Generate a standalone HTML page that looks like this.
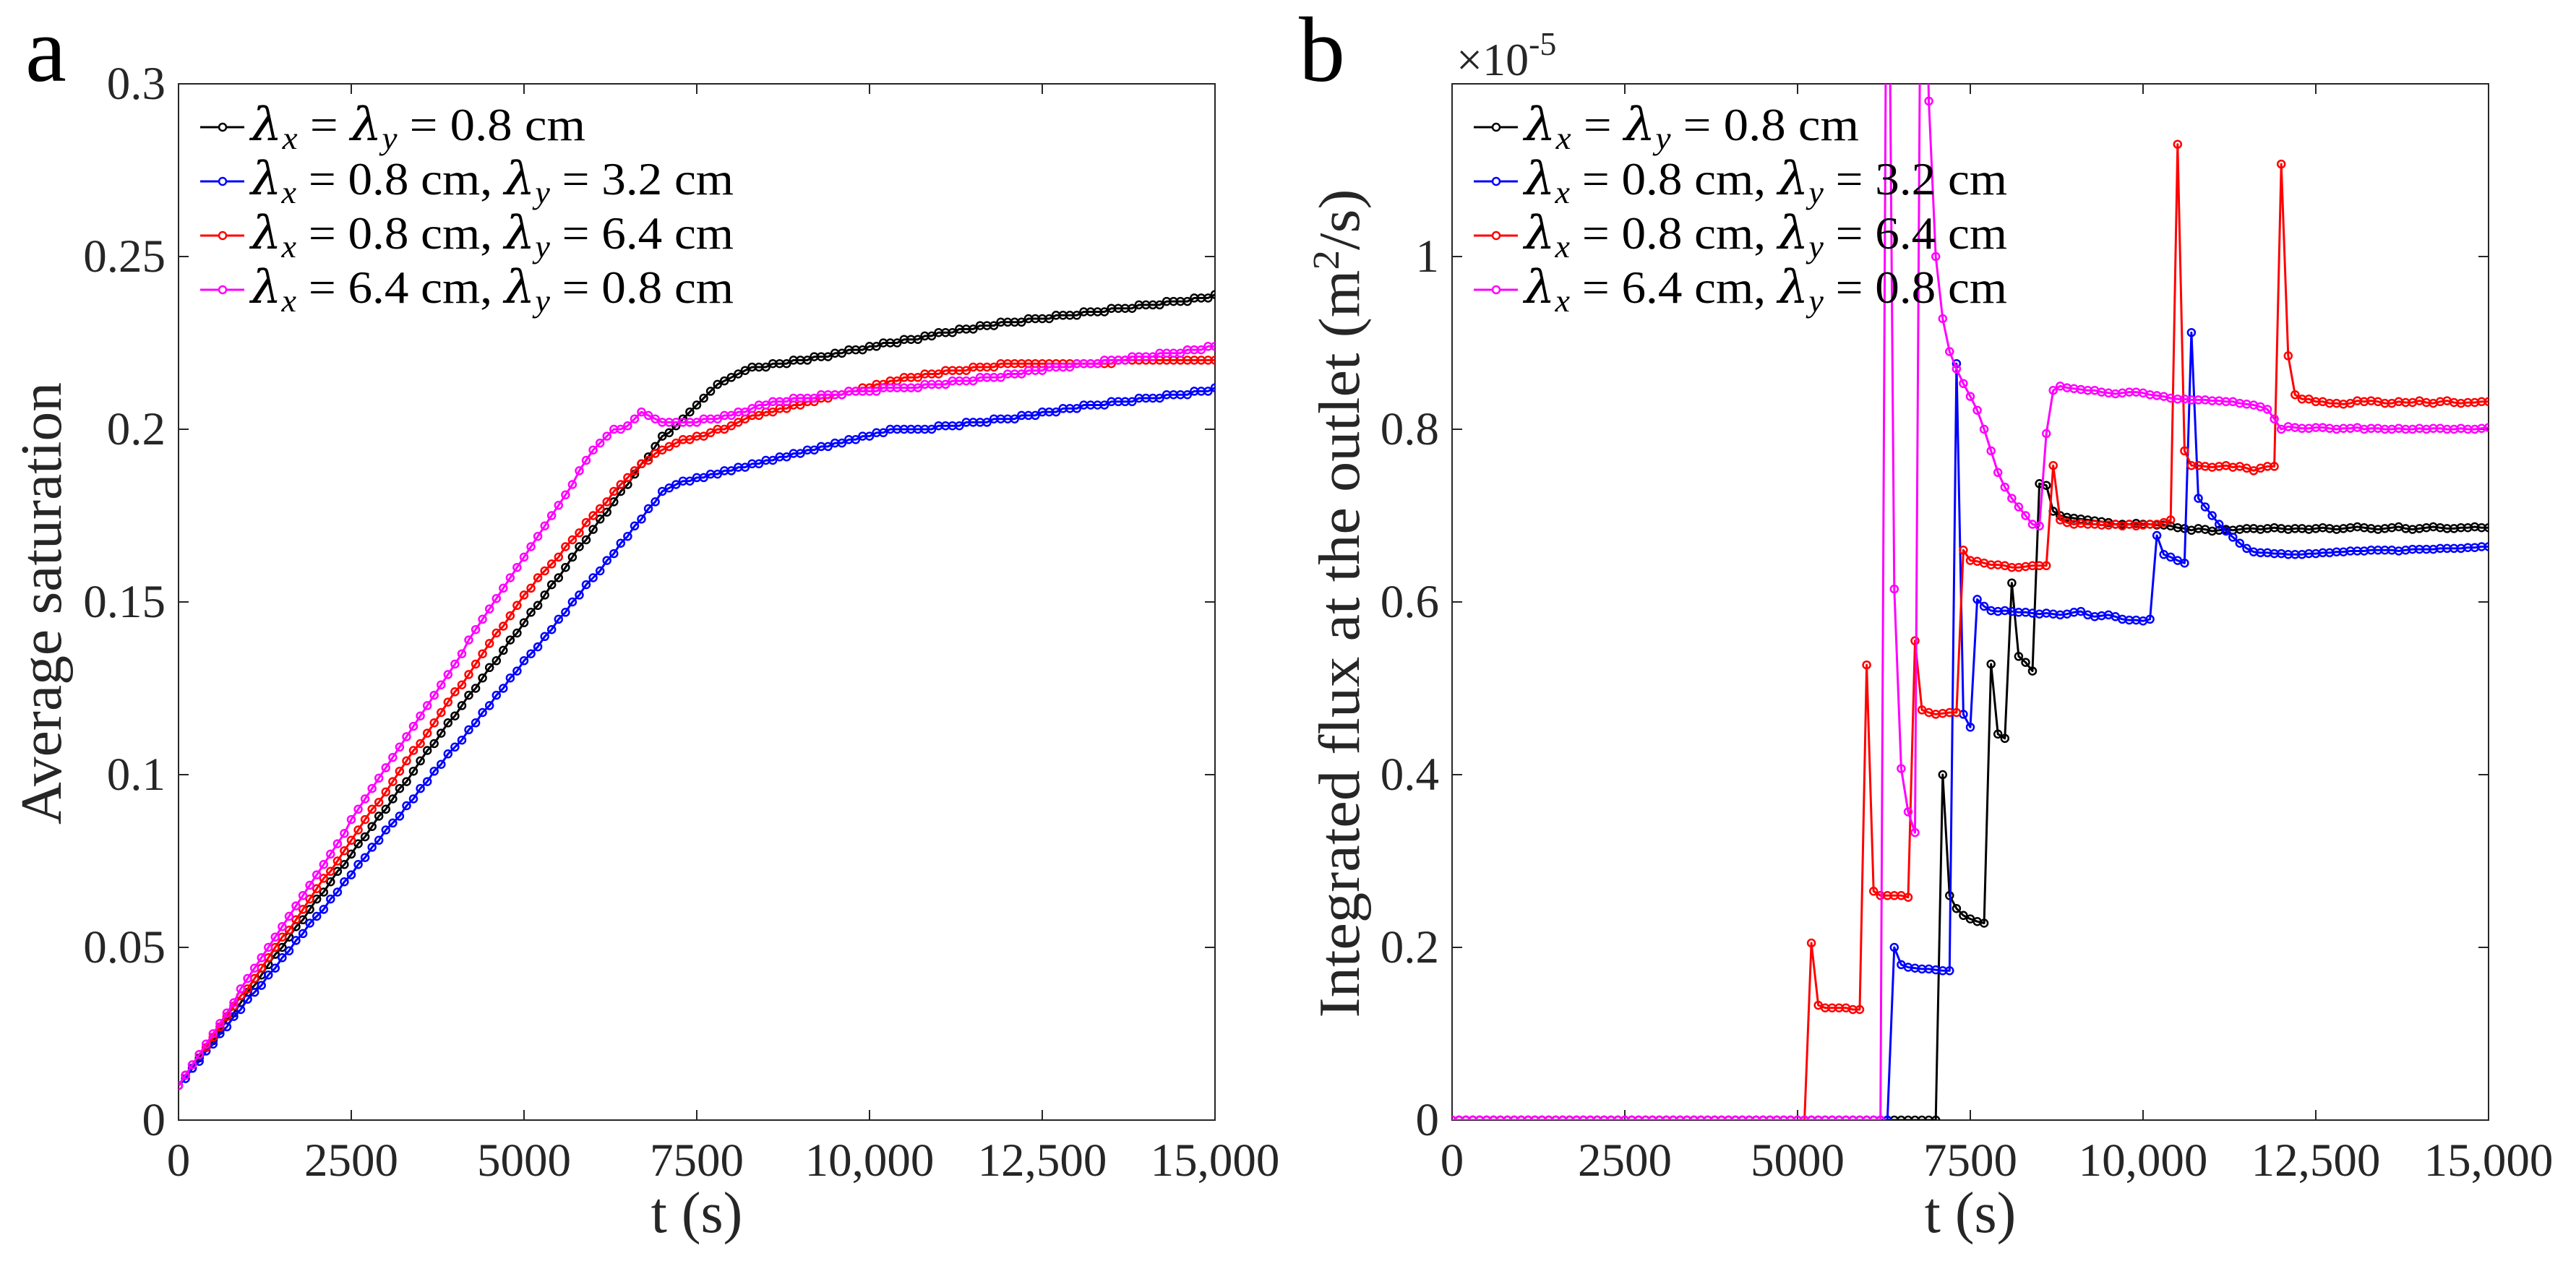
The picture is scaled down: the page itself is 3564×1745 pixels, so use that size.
<!DOCTYPE html>
<html><head><meta charset="utf-8"><style>
html,body{margin:0;padding:0;background:#fff;}
svg{display:block;font-family:"Liberation Serif",serif;}
.gr{font-family:"DejaVu Serif","Liberation Serif",serif;font-style:italic;}
</style></head><body>
<svg id="fig" width="3564" height="1745" viewBox="0 0 3564 1745" xmlns="http://www.w3.org/2000/svg">
<defs>
<clipPath id="clipA"><rect x="247" y="116" width="1434" height="1434"/></clipPath>
<clipPath id="clipB"><rect x="2009" y="116" width="1434" height="1434"/></clipPath>
</defs>
<g id="gA"></g>
<g id="gB"></g>
</svg>
<script>
// shared x categories: time steps every 100 s (0..15000)
const tStep = 100;
const xTicks = [0, 2500, 5000, 7500, 10000, 12500, 15000];
const xTickLabels = ["0", "2500", "5000", "7500", "10,000", "12,500", "15,000"];
const yTicksA = [0, 0.05, 0.1, 0.15, 0.2, 0.25, 0.3];
const yTickLabelsA = ["0", "0.05", "0.1", "0.15", "0.2", "0.25", "0.3"];
const yTicksB = [0, 0.2, 0.4, 0.6, 0.8, 1];
const yTickLabelsB = ["0", "0.2", "0.4", "0.6", "0.8", "1"];
const seriesNames = ["lx-ly-0.8", "lx-0.8-ly-3.2", "lx-0.8-ly-6.4", "lx-6.4-ly-0.8"];

const satBlack = [0.010,0.013,0.015,0.018,0.021,0.023,0.026,0.029,0.031,0.034,0.037,
0.039,0.042,0.045,0.048,0.050,0.053,0.056,0.058,0.061,0.064,
0.066,0.069,0.072,0.074,0.077,0.080,0.082,0.085,0.088,0.090,
0.093,0.096,0.098,0.101,0.104,0.107,0.109,0.112,0.115,0.117,
0.120,0.123,0.125,0.128,0.131,0.133,0.136,0.139,0.141,0.144,
0.147,0.149,0.152,0.155,0.157,0.160,0.163,0.166,0.168,0.171,
0.174,0.176,0.179,0.182,0.184,0.187,0.190,0.192,0.195,0.198,
0.199,0.201,0.203,0.205,0.207,0.209,0.211,0.213,0.214,0.215,0.216,0.217,0.218,
0.218,0.218,0.219,0.219,0.219,0.220,0.220,0.220,0.221,0.221,0.221,0.222,0.222,0.223,0.223,0.223,0.224,
0.224,0.225,0.225,0.225,0.226,0.226,0.226,0.227,0.227,0.228,0.228,0.228,0.229,0.229,0.229,0.230,0.230,0.230,0.231,0.231,
0.231,0.231,0.232,0.232,0.232,0.232,0.233,0.233,0.233,0.233,0.234,0.234,0.234,0.234,0.235,0.235,0.235,0.235,0.236,0.236,0.236,0.236,0.237,0.237,0.237,0.237,0.238,0.238,0.238,0.239];
const satBlue = [0.010,0.012,0.015,0.017,0.020,0.022,0.025,0.027,0.030,0.032,0.035,
0.037,0.039,0.042,0.044,0.047,0.049,0.052,0.054,0.057,0.059,
0.061,0.064,0.066,0.069,0.071,0.074,0.076,0.079,0.081,0.084,
0.086,0.088,0.091,0.093,0.096,0.098,0.101,0.103,0.106,0.108,
0.110,0.113,0.115,0.118,0.120,0.123,0.125,0.128,0.130,0.133,
0.135,0.137,0.140,0.142,0.145,0.147,0.150,0.152,0.155,0.157,
0.159,0.162,0.164,0.167,0.169,0.172,0.174,0.177,0.179,0.182,
0.183,0.184,0.185,0.185,0.186,
0.186,0.187,0.187,0.188,0.188,0.189,0.189,0.190,0.190,0.191,
0.191,0.192,0.192,0.193,0.193,0.194,0.194,0.195,0.195,0.196,0.196,0.197,0.197,0.198,0.198,0.199,0.199,0.200,0.200,0.200,
0.200,0.200,0.200,0.200,0.201,0.201,0.201,0.201,0.202,0.202,0.202,0.202,0.203,0.203,0.203,
0.203,0.204,0.204,0.204,0.205,0.205,0.205,0.206,0.206,0.206,0.207,0.207,0.207,0.207,0.208,0.208,0.208,0.208,0.209,0.209,0.209,0.209,0.210,0.210,0.210,0.210,0.211,0.211,0.211,0.212];
const satRed = [0.010,0.013,0.016,0.019,0.021,0.024,0.027,0.030,0.033,0.036,0.038,
0.041,0.044,0.047,0.050,0.053,0.055,0.058,0.061,0.064,0.067,
0.070,0.072,0.075,0.078,0.081,0.084,0.087,0.090,0.092,0.095,
0.098,0.101,0.104,0.107,0.109,0.112,0.115,0.118,0.121,0.124,
0.126,0.129,0.132,0.135,0.138,0.141,0.143,0.146,0.149,0.152,
0.154,0.157,0.159,0.161,0.163,0.166,0.168,0.170,0.173,0.175,0.177,0.179,0.182,0.184,0.186,
0.188,0.190,0.191,0.193,0.194,0.195,0.196,0.197,0.197,0.198,
0.198,0.199,0.200,0.200,0.201,0.202,0.203,0.204,0.204,0.205,
0.205,0.206,0.206,0.207,0.207,0.208,0.208,0.209,0.209,0.210,0.210,0.211,0.211,0.212,0.212,0.213,0.213,0.214,0.214,0.215,
0.215,0.215,0.216,0.216,0.216,0.217,0.217,0.217,0.217,0.218,0.218,0.218,0.218,0.219,0.219,
0.219,0.219,0.219,0.219,0.219,0.219,0.219,0.219,0.219,0.219,0.219,0.219,0.219,0.219,0.219,
0.220,0.220,0.220,0.220,0.220,0.220,0.220,0.220,0.220,0.220,0.220,0.220,0.220,0.220,0.220];
const satMagenta = [0.010,0.013,0.016,0.019,0.022,0.025,0.028,0.031,0.034,0.038,0.041,
0.044,0.047,0.050,0.053,0.056,0.059,0.062,0.065,0.068,0.071,
0.074,0.077,0.080,0.083,0.087,0.090,0.093,0.096,0.099,0.102,
0.105,0.108,0.111,0.114,0.117,0.120,0.123,0.126,0.129,0.132,
0.135,0.139,0.142,0.145,0.148,0.151,0.154,0.157,0.160,0.163,
0.166,0.169,0.172,0.175,0.178,0.181,0.184,0.188,0.191,0.194,
0.196,0.198,
0.200,0.200,0.201,0.203,0.205,
0.204,0.203,0.202,0.202,0.202,
0.202,0.202,0.202,0.203,0.203,0.203,0.204,0.204,
0.205,0.205,0.206,0.207,0.207,0.208,0.208,0.208,0.209,0.209,
0.209,0.209,0.210,0.210,0.210,0.210,0.211,0.211,0.211,0.211,0.211,0.212,0.212,0.212,0.212,
0.212,0.212,0.213,0.213,0.213,0.213,0.214,0.214,0.214,0.214,0.215,0.215,0.215,0.215,0.216,
0.216,0.216,0.217,0.217,0.217,0.218,0.218,0.218,0.218,0.219,0.219,0.219,0.219,0.220,0.220,0.220,0.220,0.221,0.221,0.221,0.221,0.222,0.222,0.222,0.222,0.223,0.223,0.223,0.224,0.224];

// panel b, units of 1e-5 m^2/s
const fluxBlack = [0,0,0,0,0,0,0,0,0,0, 0,0,0,0,0,0,0,0,0,0, 0,0,0,0,0,0,0,0,0,0, 0,0,0,0,0,0,0,0,0,0,
0,0,0,0,0,0,0,0,0,0, 0,0,0,0,0,0,0,0,0,0, 0,0,0,0,0,0,0,0,0,0,
0,0.400,0.260,0.245,0.237,0.233,0.230,0.228,0.528,0.447,
0.442,0.622,0.537,0.530,0.520,0.737,0.735,0.705,0.700,0.698,
0.697,0.696,0.695,0.694,0.693,0.692,0.690,0.690,0.690,0.691,
0.690,0.690,0.689,0.689,0.688,0.686,0.685,0.683,0.685,0.684,
0.682,0.683,0.684,0.683,0.684,0.685,0.685,0.684,0.685,0.686,
0.685,0.684,0.685,0.685,0.684,0.685,0.686,0.685,0.684,0.685,
0.686,0.687,0.686,0.685,0.684,0.685,0.686,0.687,0.685,0.684,
0.685,0.686,0.687,0.686,0.685,0.685,0.686,0.686,0.687,0.686,
0.686];
const fluxBlue = [0,0,0,0,0,0,0,0,0,0, 0,0,0,0,0,0,0,0,0,0, 0,0,0,0,0,0,0,0,0,0, 0,0,0,0,0,0,0,0,0,0,
0,0,0,0,0,0,0,0,0,0, 0,0,0,0,0,0,0,0,0,0,
0,0,0,0,0.200,0.180,0.177,0.176,0.175,0.175,
0.174,0.173,0.173,0.876,0.470,0.455,0.603,0.595,0.590,0.589,
0.590,0.589,0.588,0.588,0.587,0.586,0.587,0.586,0.585,0.586,
0.588,0.589,0.585,0.583,0.584,0.585,0.583,0.580,0.579,0.579,
0.578,0.580,0.677,0.655,0.652,0.648,0.645,0.912,0.720,0.710,
0.700,0.690,0.682,0.675,0.668,0.662,0.658,0.657,0.657,0.656,
0.656,0.655,0.655,0.655,0.656,0.656,0.657,0.657,0.658,0.658,
0.659,0.659,0.659,0.660,0.660,0.660,0.660,0.659,0.660,0.661,
0.661,0.661,0.661,0.662,0.662,0.662,0.662,0.663,0.663,0.664,
0.664];
const fluxRed = [0,0,0,0,0,0,0,0,0,0, 0,0,0,0,0,0,0,0,0,0, 0,0,0,0,0,0,0,0,0,0, 0,0,0,0,0,0,0,0,0,0,
0,0,0,0,0,0,0,0,0,0,
0,0,0.205,0.133,0.130,0.130,0.130,0.130,0.128,0.128,
0.527,0.265,0.260,0.260,0.260,0.260,0.258,0.555,0.475,0.472,
0.470,0.471,0.472,0.472,0.660,0.648,0.647,0.645,0.643,0.643,
0.642,0.640,0.640,0.641,0.642,0.642,0.642,0.758,0.695,0.692,
0.690,0.691,0.690,0.690,0.689,0.689,0.690,0.688,0.690,0.688,
0.689,0.690,0.690,0.692,0.695,1.130,0.775,0.758,0.758,0.757,
0.756,0.757,0.758,0.756,0.757,0.755,0.752,0.755,0.757,0.757,
1.107,0.885,0.840,0.835,0.835,0.832,0.832,0.830,0.830,0.829,
0.830,0.833,0.832,0.833,0.832,0.830,0.830,0.832,0.831,0.831,
0.833,0.831,0.830,0.832,0.833,0.831,0.830,0.831,0.831,0.832,
0.832];
const fluxMagenta = [0,0,0,0,0,0,0,0,0,0, 0,0,0,0,0,0,0,0,0,0, 0,0,0,0,0,0,0,0,0,0, 0,0,0,0,0,0,0,0,0,0,
0,0,0,0,0,0,0,0,0,0, 0,0,0,0,0,0,0,0,0,0,
0,0,0,1.600,0.615,0.407,0.357,0.333,1.600,1.180,
1.000,0.928,0.890,0.870,0.853,0.838,0.822,0.800,0.775,0.750,
0.733,0.720,0.710,0.700,0.690,0.688,0.795,0.845,0.850,0.848,
0.847,0.846,0.845,0.845,0.843,0.842,0.841,0.842,0.843,0.843,
0.842,0.840,0.839,0.838,0.836,0.835,0.835,0.834,0.834,0.834,
0.833,0.833,0.832,0.832,0.830,0.829,0.828,0.826,0.823,0.812,
0.800,0.803,0.802,0.801,0.801,0.802,0.802,0.801,0.800,0.801,
0.801,0.802,0.800,0.801,0.801,0.800,0.800,0.801,0.800,0.800,
0.801,0.800,0.801,0.801,0.800,0.800,0.801,0.800,0.800,0.801,
0.802];

const NS = "http://www.w3.org/2000/svg";
const colors = ["#000000", "#0000ff", "#ff0000", "#ff00ff"];
function mk(tag, parent) { const e = document.createElementNS(NS, tag); parent.appendChild(e); return e; }

function drawPanel(g, X0, clipId, yMax, yTicks, yLabels, series, letter, ylabelText, ylabelX, ylabelLen, sup) {
  const Y0 = 116, W = 1434, H = 1434, xMax = 15000;
  const sx = v => X0 + v / xMax * W;
  const sy = v => Y0 + H - v / yMax * H;
  const box = mk("rect", g);
  box.setAttribute("x", X0); box.setAttribute("y", Y0); box.setAttribute("width", W); box.setAttribute("height", H);
  box.setAttribute("fill", "none"); box.setAttribute("stroke", "#262626"); box.setAttribute("stroke-width", "2");
  
  
  xTicks.forEach((v, i) => {
    const x = sx(v);
    const t1 = mk("line", g);
    t1.setAttribute("x1", x); t1.setAttribute("x2", x); t1.setAttribute("y1", Y0 + H); t1.setAttribute("y2", Y0 + H - 14);
    t1.setAttribute("stroke", "#262626"); t1.setAttribute("stroke-width", "2");
    
    
    const t2 = mk("line", g);
    t2.setAttribute("x1", x); t2.setAttribute("x2", x); t2.setAttribute("y1", Y0); t2.setAttribute("y2", Y0 + 14);
    t2.setAttribute("stroke", "#262626"); t2.setAttribute("stroke-width", "2");
    
    
    const tx = mk("text", g);
    tx.setAttribute("x", x); tx.setAttribute("y", 1627); tx.setAttribute("text-anchor", "middle");
    tx.setAttribute("font-size", "65"); tx.setAttribute("fill", "#262626");
    tx.textContent = xTickLabels[i];
    
    
  });
  yTicks.forEach((v, i) => {
    const y = sy(v);
    const t1 = mk("line", g);
    t1.setAttribute("x1", X0); t1.setAttribute("x2", X0 + 14); t1.setAttribute("y1", y); t1.setAttribute("y2", y);
    t1.setAttribute("stroke", "#262626"); t1.setAttribute("stroke-width", "2");
    
    
    const t2 = mk("line", g);
    t2.setAttribute("x1", X0 + W); t2.setAttribute("x2", X0 + W - 14); t2.setAttribute("y1", y); t2.setAttribute("y2", y);
    t2.setAttribute("stroke", "#262626"); t2.setAttribute("stroke-width", "2");
    
    
    const tx = mk("text", g);
    tx.setAttribute("x", X0 - 18); tx.setAttribute("y", y + 21); tx.setAttribute("text-anchor", "end");
    tx.setAttribute("font-size", "65"); tx.setAttribute("fill", "#262626");
    tx.textContent = yLabels[i];
    
    
  });
  const sg = mk("g", g);
  sg.setAttribute("clip-path", "url(#" + clipId + ")");
  
  
  series.forEach((vals, k) => {
    const pts = vals.map((v, i) => sx(i * tStep).toFixed(1) + "," + sy(v).toFixed(1)).join(" ");
    const pl = mk("polyline", sg);
    pl.setAttribute("points", pts); pl.setAttribute("fill", "none");
    pl.setAttribute("stroke", colors[k]); pl.setAttribute("stroke-width", "3"); pl.setAttribute("stroke-linejoin", "round");
    
    
    vals.forEach((v, i) => {
      const c = mk("circle", sg);
      c.setAttribute("cx", sx(i * tStep).toFixed(1)); c.setAttribute("cy", sy(v).toFixed(1)); c.setAttribute("r", "5");
      c.setAttribute("fill", "none"); c.setAttribute("stroke", colors[k]); c.setAttribute("stroke-width", "2.5");
      
      
    });
  });
  const lg = mk("g", g);
  
  
  const lines = [
    ['', ' = 0.8 cm', 463],
    ['0.8 cm, ', ' = 3.2 cm', 668],
    ['0.8 cm, ', ' = 6.4 cm', 668],
    ['6.4 cm, ', ' = 0.8 cm', 668]
  ];
  lines.forEach((L, k) => {
    const y = 176 + k * 75;
    const ent = mk("g", lg);
    
    
    const ln = mk("line", ent);
    ln.setAttribute("x1", X0 + 30); ln.setAttribute("x2", X0 + 91); ln.setAttribute("y1", y); ln.setAttribute("y2", y);
    ln.setAttribute("stroke", colors[k]); ln.setAttribute("stroke-width", "3");
    const mc = mk("circle", ent);
    mc.setAttribute("cx", X0 + 61); mc.setAttribute("cy", y); mc.setAttribute("r", "5");
    mc.setAttribute("fill", "#fff"); mc.setAttribute("stroke", colors[k]); mc.setAttribute("stroke-width", "2.5");
    const tx = mk("text", ent);
    tx.setAttribute("x", X0 + 100); tx.setAttribute("y", y + 18); tx.setAttribute("font-size", "64");
    tx.setAttribute("textLength", L[2]); tx.setAttribute("lengthAdjust", "spacingAndGlyphs");
    tx.innerHTML = '<tspan class="gr">λ</tspan><tspan font-style="italic" font-size="44" dy="12">x</tspan><tspan dy="-12"> = ' + L[0] +
      '</tspan><tspan class="gr">λ</tspan><tspan font-style="italic" font-size="44" dy="12">y</tspan><tspan dy="-12">' + L[1] + '</tspan>';
  });
  const lt = mk("text", g);
  lt.setAttribute("x", X0 - 212); lt.setAttribute("y", 112); lt.setAttribute("font-size", "128");
  lt.textContent = letter;
  
  
  const xl = mk("text", g);
  xl.setAttribute("x", X0 + W / 2); xl.setAttribute("y", 1705); xl.setAttribute("text-anchor", "middle");
  xl.setAttribute("font-size", "80"); xl.setAttribute("fill", "#262626");
  xl.textContent = "t (s)";
  
  
  const yl = mk("text", g);
  yl.setAttribute("transform", "translate(" + ylabelX + ",835) rotate(-90)");
  yl.setAttribute("text-anchor", "middle"); yl.setAttribute("font-size", "80"); yl.setAttribute("fill", "#262626");
  yl.setAttribute("textLength", ylabelLen); yl.setAttribute("lengthAdjust", "spacingAndGlyphs");
  yl.innerHTML = ylabelText;
  
  
  if (sup) {
    const ex = mk("text", g);
    ex.setAttribute("x", X0 + 6); ex.setAttribute("y", 104); ex.setAttribute("font-size", "64"); ex.setAttribute("fill", "#262626");
    ex.innerHTML = '×10<tspan font-size="46" dy="-28">-5</tspan>';
    
    
  }
}

drawPanel(document.getElementById("gA"), 247, "clipA", 0.3, yTicksA, yTickLabelsA,
  [satBlack, satBlue, satRed, satMagenta], "a", "Average saturation", 84, 612, false);
drawPanel(document.getElementById("gB"), 2009, "clipB", 1.2, yTicksB, yTickLabelsB,
  [fluxBlack, fluxBlue, fluxRed, fluxMagenta], "b",
  'Integrated flux at the outlet (m<tspan font-size="52" dy="-28">2</tspan><tspan dy="28">/s)</tspan>', 1880, 1147, true);
</script>
</body></html>
